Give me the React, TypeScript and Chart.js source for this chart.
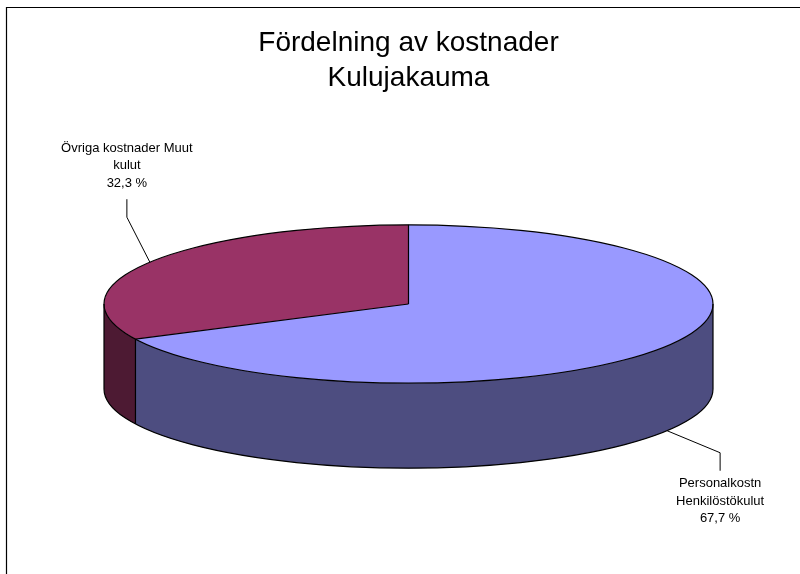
import React, { useEffect, useRef } from "react";
import { Chart, registerables } from "chart.js";

Chart.register(...registerables);

// ---- data ----
const categories: string[][] = [
  ["Personalkostn", "Henkilöstökulut"],
  ["Övriga kostnader Muut", "kulut"],
];
const shares: number[] = [67.7, 32.3];
const titleLines: string[] = ["Fördelning av kostnader", "Kulujakauma"];

// ---- styles ----
const topColors = ["#9999FF", "#993366"];
const sideColors = ["#4D4D80", "#4D1A33"];
const TILT = 0.26; // ry / rx
const DEPTH = 0.279; // depth / rx
const FONT = "'Liberation Sans', Arial, sans-serif";
// leader layout per slice: elbow offset from anchor, then vertical run
const leaders = [
  { dx: 53, dy: 22, run: 18 },
  { dx: -23, dy: -45, run: -18 },
];

const fmt = (v: number) => v.toFixed(1).replace(".", ",") + " %";

const pie3d = {
  id: "pie3d",
  beforeDraw(chart: any) {
    const ctx = chart.ctx;
    ctx.save();
    ctx.strokeStyle = "#000";
    ctx.lineWidth = 1.2;
    ctx.beginPath();
    ctx.moveTo(6.5, chart.height);
    ctx.lineTo(6.5, 7.5);
    ctx.lineTo(chart.width, 7.5);
    ctx.stroke();
    ctx.restore();
  },
  beforeDatasetsDraw(chart: any) {
    const ctx = chart.ctx;
    const arcs = chart.getDatasetMeta(0).data;
    const { x, y, outerRadius: R } = arcs[0];
    const ca = chart.chartArea;
    const rx = (ca.right - ca.left) / 2;
    const ry = rx * TILT;
    const depth = rx * DEPTH;
    // side walls (front half only)
    arcs.forEach((arc: any, i: number) => {
      const s = arc.startAngle;
      const e = arc.endAngle;
      for (let k = -1; k <= 1; k++) {
        const lo = Math.max(s, 2 * Math.PI * k);
        const hi = Math.min(e, 2 * Math.PI * k + Math.PI);
        if (hi > lo) {
          ctx.save();
          ctx.beginPath();
          ctx.ellipse(x, y, rx, ry, 0, lo, hi, false);
          ctx.ellipse(x, y + depth, rx, ry, 0, hi, lo, true);
          ctx.closePath();
          ctx.fillStyle = sideColors[i];
          ctx.fill();
          ctx.restore();
        }
      }
    });
    // flatten the library's own pie into the top face
    ctx.save();
    ctx.translate(x, y);
    ctx.scale(rx / R, ry / R);
    ctx.translate(-x, -y);
  },
  afterDatasetsDraw(chart: any) {
    const ctx = chart.ctx;
    ctx.restore();
    const arcs = chart.getDatasetMeta(0).data;
    const { x, y } = arcs[0];
    const ca = chart.chartArea;
    const rx = (ca.right - ca.left) / 2;
    const ry = rx * TILT;
    const depth = rx * DEPTH;
    ctx.save();
    ctx.strokeStyle = "#000";
    ctx.lineWidth = 1.2;
    ctx.lineJoin = "round";
    // outlines
    ctx.beginPath();
    ctx.ellipse(x, y, rx, ry, 0, 0, Math.PI * 2);
    ctx.stroke();
    ctx.beginPath();
    ctx.ellipse(x, y + depth, rx, ry, 0, 0, Math.PI);
    ctx.stroke();
    ctx.beginPath();
    ctx.moveTo(x + rx, y);
    ctx.lineTo(x + rx, y + depth);
    ctx.moveTo(x - rx, y);
    ctx.lineTo(x - rx, y + depth);
    ctx.stroke();
    arcs.forEach((arc: any) => {
      const a = arc.startAngle;
      const px = x + rx * Math.cos(a);
      const py = y + ry * Math.sin(a);
      ctx.beginPath();
      ctx.moveTo(x, y);
      ctx.lineTo(px, py);
      if (Math.sin(a) > 0) {
        ctx.moveTo(px, py);
        ctx.lineTo(px, py + depth);
      }
      ctx.stroke();
    });
    // labels with leader lines
    ctx.lineWidth = 1;
    ctx.font = `13px ${FONT}`;
    ctx.fillStyle = "#000";
    ctx.textAlign = "center";
    ctx.textBaseline = "middle";
    const values = chart.data.datasets[0].data;
    arcs.forEach((arc: any, i: number) => {
      const mid = (arc.startAngle + arc.endAngle) / 2;
      const front = Math.sin(mid) > 0;
      const ax = x + rx * Math.cos(mid);
      const ay = y + (front ? depth : 0) + ry * Math.sin(mid);
      const L = leaders[i];
      const ex = ax + L.dx;
      const ey = ay + L.dy;
      const fx = ex;
      const fy = ey + L.run;
      ctx.beginPath();
      ctx.moveTo(ax, ay);
      ctx.lineTo(ex, ey);
      ctx.lineTo(fx, fy);
      ctx.stroke();
      const lines = [...chart.data.labels[i], fmt(values[i])];
      const lh = 17.5;
      lines.forEach((t: string, j: number) => {
        const ty =
          L.run > 0 ? fy + 13 + j * lh : fy - 16 - (lines.length - 1 - j) * lh;
        ctx.fillText(t, fx, ty);
      });
    });
    ctx.restore();
  },
};

export default function App() {
  const ref = useRef<HTMLCanvasElement | null>(null);
  useEffect(() => {
    if (!ref.current) return;
    const chart = new Chart(ref.current, {
      type: "pie",
      data: {
        labels: categories as any,
        datasets: [
          {
            data: shares,
            backgroundColor: topColors,
            borderWidth: 0,
          },
        ],
      },
      options: {
        animation: false,
        responsive: true,
        maintainAspectRatio: false,
        events: [],
        layout: { padding: { left: 104, right: 87, top: 0, bottom: 62 } },
        plugins: {
          legend: { display: false },
          tooltip: { enabled: false },
          title: {
            display: true,
            text: titleLines,
            color: "#000",
            font: { family: FONT, size: 28, weight: "normal", lineHeight: 35 / 28 },
            padding: { top: 26, bottom: 0 },
          },
        },
      },
      plugins: [pie3d],
    });
    return () => chart.destroy();
  }, []);
  return (
    <div
      style={{
        position: "absolute",
        left: 0,
        top: 0,
        width: 800,
        height: 574,
        background: "#fff",
      }}
    >
      <canvas ref={ref} />
    </div>
  );
}
